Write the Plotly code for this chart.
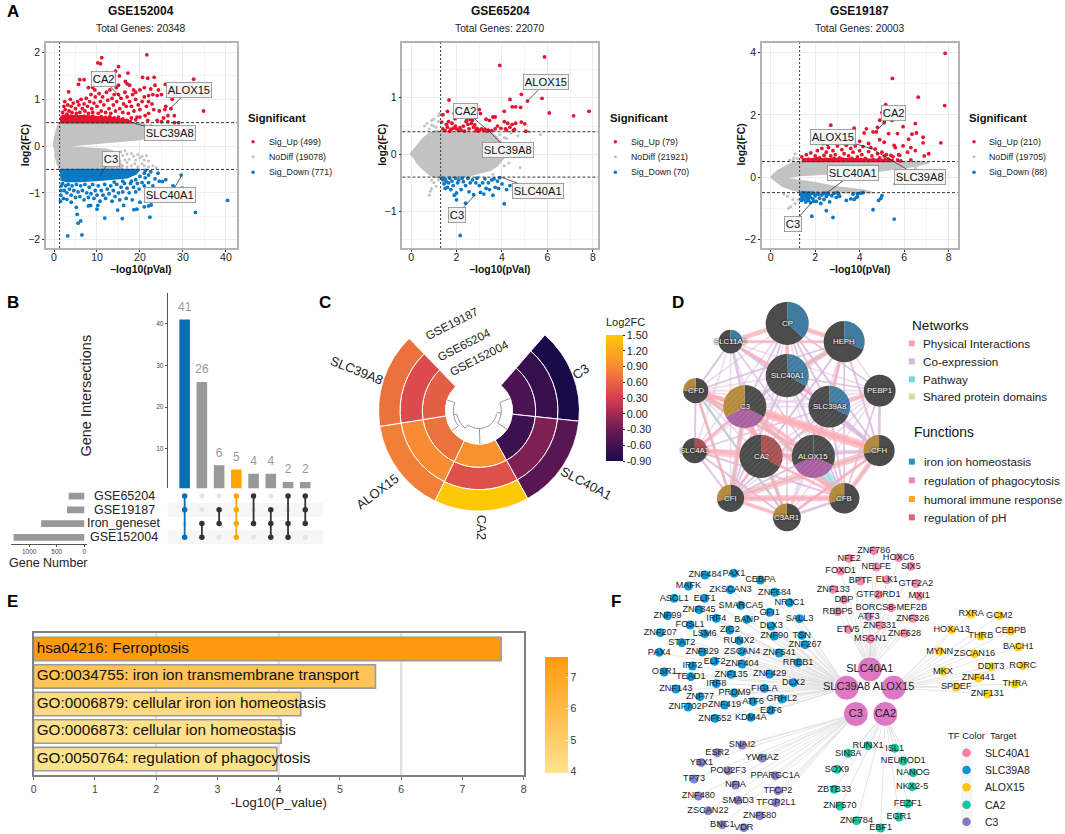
import itertools
import plotly.graph_objects as go

W, H = 1065, 834
FONT = "Liberation Sans"

# ---------- Panel A data ----------
a1_up = [(21.6,1.95),(11.1,1.89),(10.2,1.78),(10.8,1.76),(15,1.7),(14.3,1.6),(12.2,1.57),(17.2,1.56),(12.9,1.5),(15.2,1.5),(20.6,1.47),(21.8,1.45),(23.3,1.47),(32.5,1.43),(6,1.42),(7,1.42),(5.7,1.32),(16.6,1.38),(17,1.33),(17.6,1.3),(25.9,1.32),(3.4,1.16),(11,1.3),(9,1.25),(9.5,1.2),(8,1.25),(13.5,1.33),(14.5,1.25),(15,1.3),(18.5,1.2),(19,1.15),(20,1.2),(21,1.25),(22.5,1.22),(23.5,1.3),(24.3,1.2),(22,1.08),(23,1.1),(24,1.08),(25,1.1),(27.5,1.0),(34.8,.75),(26,.85),(27.2,.8),(24.5,.75),(28,.65),(25.8,.78),(25.5,.6),(26.5,.65),(29,.5),(22,.7),(21.2,.65),(21.8,.55),(24,.55),(25,.52),(26.5,.52),(28,.5),
(2,.72),(2.3,.85),(2.5,.95),(2.6,.78),(3,.68),(3.2,.88),(3.5,.75),(3.8,1.0),(4,.85),(4.2,.72),(4.5,.92),(5,.8),(5.2,.7),(5.5,.95),(5.8,.88),(6,.72),(6.3,1.0),(6.6,.8),(7,.9),(7.2,.75),(7.5,1.02),(7.8,.85),(8,.7),(8.3,.95),(8.6,1.1),(8.8,.8),(9,.72),(9.3,.92),(9.6,1.05),(10,.85),(10.3,.7),(10.5,1.12),(10.8,.95),(11,.75),(11.3,1.05),(11.6,.88),(12,.72),(12.2,1.15),(12.5,.98),(12.8,.8),(13,1.2),(13.2,.7),(13.5,1.02),(13.8,.88),(14,1.1),(14.3,.75),(14.6,.95),(15,1.1),(15.3,.8),(15.6,1.02),(16,.72),(16.2,.9),(16.5,1.15),(16.8,.85),(17,1.05),(17.3,.7),(17.6,.95),(18,.85),(18.3,1.1),(18.6,.75),(19,1.0),(19.3,.62),(19.6,.88),(20,.78),(20.5,.95),(21,1.05),(21.5,.85),(22,.95),(22.8,.9),(23.2,.78),(18,.6),(19,.56),(20,.62),(17,.55),(16,.58),(15,.62),(2,.62),(3,.6),(4,.64),(5,.62),(6,.6),(7,.64),(8,.62),(9,.64),(10,.6),(11,.63),(12,.61),(13,.63),(14,.6)]
a1_down = [(3.2,-1.92),(6.5,-1.9),(5.6,-1.65),(6.2,-1.6),(5.4,-1.46),(5.2,-1.31),(1.5,-1.18),(11.8,-1.54),(15.9,-1.55),(22.3,-1.52),(32.9,-1.42),(40.4,-1.16),(29.8,-.9),(14.8,-1.37),(16.2,-1.27),(18.6,-1.36),(19.3,-1.35),(21,-1.3),(22,-1.28),(22.6,-1.26),(10,-1.35),(8.5,-1.27),(8,-1.28),(10.2,-1.27),(3,-1.14),(2.2,-1.12),(1.6,-1.05),(4,-1.2),(27.7,-.85),(25,-.95),(24.5,-.75),(25.2,-.76),(29.6,-.62),(22,-.62),(24.2,-.58),(21.3,-.52),(23,-.85),(26,-.72),
(1.7,-.85),(1.6,-.95),(2,-.8),(2.4,-.95),(2.7,-.85),(3,-1.0),(3.3,-.82),(3.6,-.92),(4,-1.05),(4.2,-.85),(4.6,-.95),(5,-1.1),(5.2,-.82),(5.6,-.98),(6,-1.08),(6.2,-.85),(6.6,-.95),(7,-1.15),(7.2,-.82),(7.6,-1.0),(8,-1.1),(8.2,-.88),(8.6,-1.02),(9,-.82),(9.3,-1.12),(9.6,-.95),(10,-1.05),(10.3,-.85),(10.7,-1.18),(11,-.95),(11.4,-1.05),(11.8,-.82),(12,-1.12),(12.4,-.92),(12.8,-1.02),(13.2,-.85),(13.5,-1.18),(13.8,-.95),(14.2,-1.08),(14.6,-.82),(15,-1.0),(15.3,-1.15),(15.6,-.88),(16,-.98),(16.4,-.8),(16.8,-1.12),(17,-.9),(17.5,-1.0),(17.8,-.8),(18.2,-1.15),(18.5,-.88),(19,-.98),(19.4,-.8),(19.8,-.92),(20,-1.2),(20.5,-.78),(21,-.85),(21.2,-.68),(22,-.78),(22.5,-.55),(23.5,-.7),(18,-.75),(19,-.72),(20,-.65),(21,-.58),(16,-.75),(14,-.77)]
a1_grey = [(16,-.2),(17,-.17),(18,-.16),(20,-.25),(20.5,-.22),(21,-.3),(22,-.32),(19,-.3),(17,-.35),(18,-.42),(15,-.3),(16,-.42),(19.5,-.45),(21,-.42),(22,-.45),(23,-.42),(23.8,-.46),(20.5,-.38),(14.5,-.4),(17.5,-.28),(16.5,-.3),(24,.3),(22.5,.45),(23.8,.33),(18.8,-.38),(15.5,-.12),(16.5,-.1),(18.5,-.22),(19.5,-.18),(17,-.45),(21.5,-.2)]
a1_env_x = [-0.2,0.2,0.6,1.0,1.4,20.5,22,23.5,24,23,20,15,10,6,4,2.8,4,6,8,10,12,13.5,15,15.5,16,1.3,0.9,0.5,0.2]
a1_env_y = [0.0,0.22,0.36,0.46,0.5,0.5,0.42,0.33,0.27,0.2,0.14,0.1,0.07,0.04,0.02,0.0,-0.02,-0.03,-0.04,-0.05,-0.07,-0.1,-0.2,-0.35,-0.5,-0.5,-0.42,-0.3,-0.16]
a1_up_env_x = [1.4,18,18,14,8,4,2,1.4]
a1_up_env_y = [.5,.5,.54,.6,.64,.66,.66,.6]
a1_dn_env_x = [1.3,20,19,17,12,6,3,1.5]
a1_dn_env_y = [-.5,-.5,-.6,-.68,-.72,-.76,-.76,-.72]

a2_up = [(5.87,1.72),(3.9,1.57),(4.85,1.06),(4.35,.97),(5.76,.99),(5.12,.94),(1.67,.96),(4.45,.84),(4.6,.84),(4.82,.83),(4.1,.76),(6.08,.73),(7.15,.68),(7.83,.76),(3.0,.79),(1.4,.7),(1.6,.76),(1.9,.72),(3.05,.72),(3.3,.62),(3.6,.66),(3.7,.66),(3.45,.6),(1.93,.63),(2.45,.6),(2.6,.62),(2.7,.6),(1.35,.57),(1.55,.53),(1.6,.48),(1.8,.55),(1.95,.5),(2.0,.45),(2.1,.42),(2.3,.5),(2.5,.53),(2.55,.45),(2.65,.55),(2.75,.48),(2.85,.42),(2.9,.46),(3.0,.43),(3.1,.45),(3.2,.42),(3.4,.43),(3.55,.42),(3.8,.5),(3.95,.46),(4.1,.58),(4.15,.45),(4.25,.55),(4.35,.48),(4.45,.53),(4.55,.44),(4.6,.55),(4.85,.57),(5.0,.54),(5.05,.41),(4.5,.42),(1.4,.45),(1.5,.42),(1.7,.41),(1.85,.46),(2.2,.43),(2.35,.41),(2.8,.52),(3.25,.44),(3.7,.45),(4.2,.43),(1.65,.58),(2.15,.47),(2.42,.58),(2.95,.41),(3.35,.41),(1.75,.44)]
a2_down = [(2.16,-1.43),(4.1,-.87),(2.4,-.86),(2,-.8),(1.9,-.72),(3.9,-.41),(1.4,-.45),(1.45,-.52),(1.5,-.6),(1.55,-.48),(1.65,-.5),(1.7,-.42),(1.75,-.62),(1.8,-.47),(1.85,-.55),(1.95,-.42),(2.0,-.68),(2.05,-.5),(2.1,-.45),(2.2,-.62),(2.3,-.48),(2.4,-.55),(2.5,-.42),(2.55,-.66),(2.7,-.45),(2.75,-.71),(2.9,-.42),(3.0,-.55),(3.05,-.67),(3.15,-.5),(3.2,-.7),(3.3,-.6),(3.4,-.5),(3.45,-.62),(3.55,-.45),(3.6,-.72),(3.7,-.58),(3.8,-.47),(3.85,-.6),(4.0,-.52),(4.2,-.62),(4.35,-.55),(1.35,-.42),(1.6,-.58),(1.5,-.44),(2.25,-.42),(2.85,-.5),(2.6,-.5),(3.25,-.43),(3.65,-.43)]
a2_grey = [(.7,.55),(.9,.6),(1,.62),(1.2,.68),(1.25,.72),(.8,.45),(1,.5),(1.1,.48),(.6,.5),(1.2,.58),(.9,.52),(5.7,.35),(5.2,.4),(4.4,.38),(4.7,.33),(4.2,.28),(4.8,-.23),(4.3,-.15),(4.4,.1),(4.7,.2),(4.5,-.02),(.8,-.72),(.85,-.65),(.9,-.6),(1,-.5),(1.2,-.45),(.9,-.45),(3.9,.35),(4.1,.3),(4.1,-.2),(3.6,-.35),(1.1,-.56)]
a2_env_x = [-.05,.2,.5,.8,1.1,1.4,3.2,3.5,3.8,4,4.1,4.3,4,3.8,3.5,3,2.5,2,1.3,1,.8,.5,.2]
a2_env_y = [0,.13,.27,.37,.42,.4,.4,.38,.3,.2,.13,.04,-.1,-.2,-.28,-.33,-.38,-.4,-.42,-.4,-.35,-.25,-.12]

a3_up = [(7.84,3.98),(5.47,3.17),(6.63,2.57),(7.82,2.3),(5.17,2.33),(5.0,2.07),(4.9,1.83),(5.45,1.82),(5.1,1.75),(2.7,1.67),(3.75,1.57),(4.3,1.55),(4.2,1.42),(4.6,1.45),(4.75,1.45),(4.8,1.6),(5.95,1.62),(5.3,1.4),(5.7,1.4),(6.5,1.72),(6.35,1.38),(6.55,1.42),(6.85,1.28),(6.2,1.22),(6.85,1.1),(7.65,1.1),(6.3,.95),(7.1,.75),(6.9,.68),(6.5,.85),(6.15,.8),(5.75,.72),(5.8,.7),(5.95,1.0),(5.55,1.02),(5.1,1.12),(4.9,1.2),
(1.4,.65),(1.6,.72),(1.8,.78),(2.0,.68),(2.1,.85),(2.2,.62),(2.3,.92),(2.4,.7),(2.5,.8),(2.6,.95),(2.7,.68),(2.8,.85),(2.9,.72),(3.0,1.0),(3.1,.62),(3.2,.88),(3.3,.75),(3.4,1.02),(3.5,.68),(3.6,.92),(3.7,.8),(3.8,1.0),(3.9,.65),(4.0,.85),(4.1,.72),(4.15,.98),(4.25,.6),(4.4,.82),(4.5,.95),(4.55,.68),(4.7,.9),(4.8,.75),(4.9,.62),(5.0,.8),(5.1,.68),(5.2,.72),(5.3,.58),(5.4,.7),(5.5,.65),(5.6,.95),(5.7,.55),(1.5,.55),(1.7,.58),(1.9,.55),(2.05,.6),(2.25,.55),(2.45,.58),(2.65,.55),(2.85,.6),(3.05,.55),(3.25,.58),(3.45,.55),(3.65,.6),(3.85,.55),(4.05,.56),(4.3,.55),(4.6,.56),(4.85,.55),(5.15,.56),(5.85,.52),(6.3,.55),(3.35,1.1),(2.55,1.05),(4.4,1.08),(3.6,1.15),(2.35,1.08),(4.0,1.15)]
a3_down = [(5.55,-1.35),(4.6,-1.05),(2.8,-1.3),(1.85,-1.26),(2.5,-1.08),(5,-.6),(4.95,-.68),(4.85,-.75),(3.4,-.75),(3.6,-.7),(3.75,-.72),(3.85,-.65),(3.7,-.55),(3.9,-.53),(4.05,-.52),(1.35,-.55),(1.4,-.65),(1.45,-.52),(1.5,-.72),(1.55,-.6),(1.6,-.52),(1.65,-.68),(1.7,-.75),(1.75,-.58),(1.8,-.82),(1.85,-.52),(1.9,-.7),(2.0,-.6),(2.05,-.78),(2.1,-.52),(2.2,-.68),(2.25,-.85),(2.3,-.58),(2.4,-.72),(2.45,-.52),(2.5,-.62),(2.6,-.55),(2.65,-.8),(2.75,-.6),(2.85,-.52),(2.95,-.65),(3.05,-.55),(3.1,-.62),(1.38,-.75),(1.48,-.6),(1.58,-.8),(1.68,-.55),(1.78,-.65),(2.15,-.55),(2.35,-.52),(1.42,-.5),(1.52,-.5),(1.62,-.62),(1.72,-.5),(1.92,-.52),(1.95,-.78),(2.55,-.52),(3.9,-.63),(4.15,-.5),(3.0,-.5)]
a3_grey = [(1.1,.75),(1.05,.62),(1.2,.6),(.85,.55),(1.0,.55),(6.5,.3),(6.6,.38),(5.55,-.22),(5.7,.25),(.9,-.95),(.8,-1.0),(1.1,-.85),(1.0,-.72),(.75,-.62),(.6,-.55),(1.25,-.72)]
a3_env_up_x = [0,.3,.7,1,1.3,6.8,7.1,6.6,6.3,5,3,1.3,.9,.5]
a3_env_up_y = [0,.2,.36,.46,.5,.5,.45,.36,.33,.2,.12,.05,0,-.03]
a3_env_dn_x = [0,.5,1,1.5,2.6,4.6,4.2,3,2,1.2,.5]
a3_env_dn_y = [0,-.28,-.42,-.5,-.5,-.5,-.42,-.32,-.18,-.1,-.02]
a3_up_env_x = [1.4,5.5,5.5,3,1.4]
a3_up_env_y = [.5,.5,.56,.6,.58]

# label name, point x, point y, label x, label y
a1_labels = [("CA2",15.6,1.02,11.56,1.43),("ALOX15",27,.8,31.3,1.19),("SLC39A8",18.2,.5,27.05,.27),("C3",10.6,-.65,13.2,-.27),("SLC40A1",29.7,-.63,27.05,-1.05)]
a2_labels = [("ALOX15",5.12,.94,5.92,1.27),("CA2",3.27,.46,2.39,.77),("SLC39A8",3.34,.45,4.26,.07),("SLC40A1",3.95,-.4,5.6,-.64),("C3",2.83,-.71,2,-1.06)]
a3_labels = [("CA2",4.72,1.46,5.51,2.05),("ALOX15",4.68,.88,2.82,1.29),("SLC39A8",4.75,.82,6.7,.01),("SLC40A1",2.52,-.51,3.71,.12),("C3",1.85,-.81,1,-1.5)]

# ---------- Panel B data ----------
inter_counts = [41,26,6,5,4,4,2,2]
inter_colors = ["#0a6eb4","#999999","#999999","#ffa500","#999999","#999999","#999999","#999999"]
set_names = ["GSE65204","GSE19187","Iron_geneset","GSE152004"]
set_sizes = [283,313,783,1283]
memberships = [[0,1,3],[2,3],[1,2],[0,1,2,3],[0,2],[1,2,3],[0,2,3],[0,1,2]]

# ---------- Panel C data ----------
sector_genes = ["C3","SLC40A1","CA2","ALOX15","SLC39A8"]
fc_gse152004 = [-.55,-.65,.95,.7,.55]
fc_gse65204 = [-.7,-.2,.45,.9,.4]
fc_gse19187 = [-.9,-.45,1.5,.8,.7]

# ---------- Panel D data (network layout units) ----------
d_names = ["CP","HEPH","SLC11A2","SLC40A1","PEBP1","CFD","C3","SLC39A8","SLC4A1","CA2","ALOX15","CFH","CFI","CFB","C3AR1"]
d_x = [386,558,215,386,665,110,258,513,107,307,465,663,215,558,385]
d_y = [115,170,170,272,317,317,365,365,497,514,514,497,640,640,697]
d_r = [65,62,36,65,48,38,65,63,38,65,65,47,41,46,42]
d_slices = [[37,63],[31,69],[25,75],[33,67],[100],[75,25],[33,34,33],[32,68],[25,75],[33,67],[32,36,32],[72,28],[72,28],[70,30],[75,25]]
BL,DK,TN,PU,RD = "#3f7c9f","#4b4b4b","#b58b3e","#a9609f","#a65252"
d_colors = [[BL,DK],[BL,DK],[BL,DK],[BL,DK],[DK],[DK,TN],[DK,PU,TN],[BL,DK],[RD,DK],[RD,DK],[DK,PU,DK],[DK,TN],[DK,TN],[DK,TN],[DK,TN]]
d_hatched = {"SLC40A1","C3","SLC39A8","CA2","ALOX15"}
edges_pink = [("C3","CFH",9),("SLC4A1","CA2",7),("CFI","CFH",7),("CFD","CFH",5),("C3","CFB",5),("CFI","CFB",6),("CP","SLC11A2",5),("CP","HEPH",5),("SLC11A2","HEPH",3),("SLC40A1","HEPH",5),("SLC39A8","PEBP1",5),("C3","CFI",5),("C3","CFD",4),("CFB","CFH",5),("C3AR1","C3",3),("C3AR1","CFH",3),("CFD","CFB",4),("CFD","CFI",3),("CP","SLC40A1",4),("SLC11A2","SLC40A1",3),("CFI","C3AR1",4),("CFD","ALOX15",3),("C3","ALOX15",4),("CA2","ALOX15",3),("CA2","C3",3),("CA2","CFI",3),("CA2","CFB",3),("SLC4A1","C3",3),("SLC39A8","HEPH",3),("SLC40A1","SLC39A8",3)]
edges_purple = [("CP","C3",2),("CP","SLC39A8",2),("CP","CFH",2),("CP","PEBP1",1.5),("HEPH","CFD",1.5),("HEPH","CFH",2),("HEPH","SLC39A8",2),("SLC11A2","CFD",2),("SLC11A2","C3",2),("SLC11A2","CFH",1.5),("SLC11A2","SLC39A8",1.5),("SLC40A1","CFI",2),("SLC40A1","CFB",2),("SLC40A1","C3",2),("SLC40A1","CFH",2),("SLC39A8","CFH",3),("SLC39A8","CFB",2),("SLC39A8","CFI",2),("PEBP1","CFH",3),("CFD","C3AR1",2),("CFD","SLC4A1",2),("SLC4A1","CFI",2),("SLC4A1","C3AR1",2),("SLC4A1","CFB",2),("CFI","CFB",3),("CFB","C3AR1",3),("CFH","C3AR1",2),("CP","CFB",1.5),("CP","CFI",1.5),("HEPH","CFI",1.5),("HEPH","CFB",1.5),("CA2","CFH",3),("ALOX15","CFD",2),("ALOX15","CFI",2),("PEBP1","CFB",1.5),("PEBP1","SLC40A1",1.5)]
edges_cyan = [("ALOX15","CFB",8),("CFD","C3AR1",2),("C3","CFI",3),("C3","CFB",3),("CFH","CFI",2),("CFB","CFH",2),("CFD","CFI",2),("SLC40A1","HEPH",3),("CFD","CFB",2),("C3","C3AR1",2),("C3","CFH",2)]
edges_tan = [("CP","HEPH",2),("CFD","C3AR1",1),("CFB","CFH",1),("CFD","CFI",1)]

net_labels = ["Physical Interactions","Co-expression","Pathway","Shared protein domains"]
net_colors = ["#ffa3ab","#d9b6da","#72d8e0","#e0d8a2"]
fun_labels = ["iron ion homeostasis","regulation of phagocytosis","humoral immune response","regulation of pH"]
fun_colors = ["#2f8fc0","#e884d2","#ffa726","#e06468"]

# ---------- Panel E data ----------
terms = ["hsa04216: Ferroptosis","GO:0034755: iron ion transmembrane transport","GO:0006879: cellular iron ion homeostasis","GO:0006873: cellular ion homeostasis","GO:0050764: regulation of phagocytosis"]
logp = [7.63,5.58,4.36,4.04,3.97]

# ---------- Panel F data (network layout units) ----------
tf_blue_names = ["ZNF484","PAX1","CEBPA","MAFK","ZKSCAN3","ZNF684","ASCL1","ELF1","SMARCA5","NR3C1","ZNF845","GFI1","ZNF99","IRF4","BANP","SALL3","FOSL1","DLX3","ZNF207","LSM6","ZIC2","ZNF90","TSN","STAT2","RUNX2","ZNF267","PAX4","ZNF829","ZSCAN4","ZNF541","IRF2","ELF2","ZNF404","RREB1","OSR1","TEAD1","ZNF135","ZNF429","IRF8","DLX2","ZNF143","PRDM9","FIGLA","ZNF77","GRHL2","ZNF702P","ZNF419","ATF6","E2F6"]
tf_blue_x = [288,375,455,238,365,498,195,287,396,543,270,483,175,322,414,573,243,488,153,287,363,497,580,218,391,590,150,280,400,512,250,317,400,569,165,245,367,483,322,555,200,377,467,273,520,237,347,433,487]
tf_blue_y = [90,85,105,123,134,142,160,160,181,173,194,202,212,220,223,221,240,243,263,266,255,273,271,293,287,299,322,321,320,324,363,349,357,353,381,395,388,387,416,413,432,444,430,455,462,486,480,470,496]
tf_blue2_names = ["ZNF652","KDM4A"]
tf_blue2_x = [138,246]
tf_blue2_y = [55,52]
tf_pink_names = ["ZNF786","NFE2","HOXC6","NELFE","SIX5","FOXD1","BPTF","ELK1","GTF2A2","ZNF133","GTF2IRD1","MXI1","DBP","BORCS8-MEF2B","RBBP5","ATF3","ZNF326","ZNF331","ETV5","ZNF628","MSGN1"]
tf_pink_x = [167,93,242,175,279,67,127,207,294,45,181,304,77,220,58,152,285,185,90,260,157]
tf_pink_y = [17,40,38,66,64,78,108,104,116,133,149,153,164,188,200,215,220,241,253,265,282]
tf_yellow_names = ["RXRA","GCM2","HOXA13","THRB","CEBPB","BACH1","MYNN","ZSCAN16","DDIT3","RORC","MKX","ZNF441","SPDEF","THRA","ZNF131"]
tf_yellow_x = [461,546,402,490,580,603,366,471,521,617,376,483,416,593,510]
tf_yellow_y = [207,212,254,273,258,306,319,326,365,362,379,399,426,417,447]
tf_purple_names = ["SNAI2","ESR2","YWHAZ","YBX1","POU2F3","TP73","PPARGC1A","NFIA","TFCP2","ZNF480","SMAD3","TFCP2L1","ZSCAN22","ZNF580","BNC1","VDR"]
tf_purple_x = [220,145,280,97,178,75,320,200,328,88,208,322,117,273,160,225]
tf_purple_y = [135,158,174,188,212,237,227,255,272,288,301,308,332,347,374,383]
tf_green_names = ["RUNX1","ISL1","SIN3A","NEUROD1","SOX9","NANOG","NKX2-5","ZBTB33","FEZF1","ZNF570","EGR1","ZNF784","EBF1"]
tf_green_x = [600,680,540,706,506,736,733,498,720,515,693,565,638]
tf_green_y = [137,145,160,183,208,218,260,268,311,318,351,362,384]
hub_names = ["SLC40A1","SLC39A8","ALOX15","C3","CA2"]
hub_x = [155,85,227,113,202]
hub_y = [373,428,428,507,507]
legend_targets = ["SLC40A1","SLC39A8","ALOX15","CA2","C3"]
legend_tf_colors = ["#f87ea0","#0a94d4","#fbc40c","#12c8a0","#8078c0"]

# ---------- helpers ----------
def fx(p): return p/W
def fy(p): return 1-p/H
notes = []
def note(px,py,text,size=10,color="#111",anchor="center",angle=0,bold=False,shadow=None,valign="middle"):
    f = dict(family=FONT,size=size,color=color)
    if shadow: f["shadow"] = shadow
    notes.append(dict(x=fx(px),y=fy(py),xref="paper",yref="paper",text=f"<b>{text}</b>" if bold else text,showarrow=False,font=f,xanchor=anchor,yanchor=valign,textangle=angle))

fig = go.Figure()
layout = dict(width=W,height=H,margin=dict(l=0,r=0,t=0,b=0),paper_bgcolor="white",plot_bgcolor="rgba(0,0,0,0)",showlegend=False,font=dict(family=FONT,color="#222"))
shapes = []
RED,BLUE,GREY = "#e5132f","#0a78c2","#c2c2c2"

def xy(pts): return [p[0] for p in pts],[p[1] for p in pts]

def volcano(i,rect,xr,yr,xt,yt,xm,ym,title,total,up,down,grey,envs,up_envs,dn_envs,hline,labels,counts,legx,ytitle_x):
    sfx = "" if i == 1 else str(i)
    xa,ya = f"x{sfx}",f"y{sfx}"
    l,r,t,b = rect
    layout[f"xaxis{sfx}"] = dict(domain=[fx(l),fx(r)],range=xr,anchor=ya,tickvals=xt,showgrid=True,gridcolor="#ececec",gridwidth=.8,
        minor=dict(tickvals=xm,showgrid=True,gridcolor="#f4f4f4",gridwidth=.6,ticks=""),zeroline=False,showline=True,mirror=True,linecolor="#b3b3b3",linewidth=1.5,
        ticks="outside",ticklen=2,tickcolor="#333",tickfont=dict(size=10.5,color="#222"),ticklabelstandoff=-3)
    layout[f"yaxis{sfx}"] = dict(domain=[fy(b),fy(t)],range=yr,anchor=xa,tickvals=yt,showgrid=True,gridcolor="#ececec",gridwidth=.8,
        minor=dict(tickvals=ym,showgrid=True,gridcolor="#f4f4f4",gridwidth=.6,ticks=""),zeroline=False,showline=True,mirror=True,linecolor="#b3b3b3",linewidth=1.5,
        ticks="outside",ticklen=2,tickcolor="#333",tickfont=dict(size=10.5,color="#222"))
    for ex,ey in envs:
        fig.add_trace(go.Scatter(x=ex,y=ey,mode="lines",fill="toself",fillcolor=GREY,line=dict(color=GREY,width=1.5),xaxis=xa,yaxis=ya,hoverinfo="skip"))
    gx,gy = xy(grey)
    fig.add_trace(go.Scatter(x=gx,y=gy,mode="markers",marker=dict(color=GREY,size=3),xaxis=xa,yaxis=ya,hoverinfo="skip"))
    for ex,ey,c in up_envs+dn_envs:
        fig.add_trace(go.Scatter(x=ex,y=ey,mode="lines",fill="toself",fillcolor=c,line=dict(color=c,width=1.5),xaxis=xa,yaxis=ya,hoverinfo="skip"))
    for pts,c in ((up,RED),(down,BLUE)):
        px_,py_ = xy(pts)
        fig.add_trace(go.Scatter(x=px_,y=py_,mode="markers",marker=dict(color=c,size=3.8),xaxis=xa,yaxis=ya,hoverinfo="skip"))
    for v in (hline,-hline):
        shapes.append(dict(type="line",xref=f"{xa} domain",x0=0,x1=1,yref=ya,y0=v,y1=v,line=dict(color="#333",width=1,dash="3px,2px")))
    shapes.append(dict(type="line",yref=f"{ya} domain",y0=0,y1=1,xref=xa,x0=1.3,x1=1.3,line=dict(color="#333",width=1,dash="2px,2px")))
    for name,px0,py0,lx,ly in labels:
        notes.append(dict(x=px0,y=py0,xref=xa,yref=ya,ax=lx,ay=ly,axref=xa,ayref=ya,text=name,showarrow=True,arrowhead=0,arrowwidth=.8,arrowcolor="#333",
            font=dict(family=FONT,size=11.2,color="#111"),bgcolor="#f4f4f4",bordercolor="#8c8c8c",borderwidth=.8,borderpad=1,standoff=0))
    cx = (l+r)/2
    note(cx,11,title,12,"#111",bold=True)
    note(cx,28,total,10.3,"#222")
    note(cx,269,"−log10(pVal)",10.4,"#111",bold=True)
    note(ytitle_x,145,"log2(FC)",10.4,"#111",bold=True,angle=-90)
    note(legx,117.7,"Significant",11.3,"#111","left",bold=True)
    for yy,c,lab,sz in zip((141.7,156.7,172.3),(RED,GREY,BLUE),counts,(3.5,3,3.5)):
        legend_pts.append((legx+7.5,yy,c,sz))
        note(legx+21,yy,lab,8.8,"#222","left")

legend_pts = []
volcano(1,(43.3,235,42.7,248),[-1.85,42.5],[-2.18,2.21],[0,10,20,30,40],[-2,-1,0,1,2],[5,15,25,35],[-1.5,-.5,.5,1.5],"GSE152004","Total Genes: 20348",a1_up,a1_down,a1_grey,
    [(a1_env_x,a1_env_y)],[(a1_up_env_x,a1_up_env_y,RED)],[(a1_dn_env_x,a1_dn_env_y,BLUE)],.5,a1_labels,["Sig_Up (499)","NoDiff (19078)","Sig_Down (771)"],244,22.3)
volcano(2,(401.7,598.3,42.7,248),[-.38,8.22],[-1.65,1.97],[0,2,4,6,8],[-1,0,1],[1,3,5,7],[-1.5,-.5,.5,1.5],"GSE65204","Total Genes: 22070",a2_up,a2_down,a2_grey,
    [(a2_env_x,a2_env_y)],[],[],.4,a2_labels,["Sig_Up (79)","NoDiff (21921)","Sig_Down (70)"],608.3,381)
volcano(3,(763.3,960,42.7,248),[-.39,8.4],[-2.28,4.32],[0,2,4,6,8],[-2,0,2,4],[1,3,5,7],[-1,1,3],"GSE19187","Total Genes: 20003",a3_up,a3_down,a3_grey,
    [(a3_env_up_x,a3_env_up_y),(a3_env_dn_x,a3_env_dn_y)],[(a3_up_env_x,a3_up_env_y,RED)],[],.5,a3_labels,["Sig_Up (210)","NoDiff (19705)","Sig_Down (88)"],969,741.7)

# ---------- Panel B ----------
n = list(range(8))
layout["xaxis4"] = dict(domain=[fx(165.7),fx(322)],range=[-.98,8.04],anchor="y4",visible=False)
layout["yaxis4"] = dict(domain=[fy(488.3),fy(293.3)],range=[.48,47.3],anchor="x4",tickvals=[10,20,30,40],showgrid=False,zeroline=False,showline=True,linecolor="#555",linewidth=1,
    ticks="outside",ticklen=2,tickcolor="#555",tickfont=dict(size=6.5,color="#444"))
fig.add_trace(go.Bar(x=n,y=inter_counts,width=.615,marker=dict(color=inter_colors,line=dict(width=0)),xaxis="x4",yaxis="y4",hoverinfo="skip"))
fig.add_trace(go.Scatter(x=n,y=[c+2.8 for c in inter_counts],mode="text",text=inter_counts,textposition="middle center",textfont=dict(size=12,color="#999",family=FONT),xaxis="x4",yaxis="y4",cliponaxis=False,hoverinfo="skip"))
layout["xaxis5"] = dict(domain=[fx(165.7),fx(322)],range=[-.98,8.04],anchor="y5",visible=False)
layout["yaxis5"] = dict(domain=[fy(544.2),fy(489.2)],range=[3.5,-.5],anchor="x5",visible=False)
for r_ in (1,3):
    shapes.append(dict(type="rect",xref="x5 domain",x0=0,x1=1,yref="y5",y0=r_-.5,y1=r_+.5,fillcolor="#f6f6f6",line=dict(width=0),layer="below"))
for i,m in enumerate(memberships):
    rows = [r_ for r_ in range(4) if r_ not in m]
    fig.add_trace(go.Scatter(x=[i]*len(rows),y=rows,mode="markers",marker=dict(color="#e4e4e4",size=5),xaxis="x5",yaxis="y5",hoverinfo="skip"))
    c = inter_colors[i] if inter_colors[i] != "#999999" else "#333333"
    fig.add_trace(go.Scatter(x=[i]*2,y=[min(m),max(m)],mode="lines",line=dict(color=c,width=1.8),xaxis="x5",yaxis="y5",hoverinfo="skip"))
    fig.add_trace(go.Scatter(x=[i]*len(m),y=m,mode="markers",marker=dict(color=c,size=5.5),xaxis="x5",yaxis="y5",hoverinfo="skip"))
layout["xaxis6"] = dict(domain=[fx(8.3),fx(84.3)],range=[1326,-47],anchor="y6",tickvals=[1000,500,0],showgrid=False,zeroline=False,showline=True,linecolor="#555",linewidth=1,
    ticks="outside",ticklen=2,tickcolor="#555",tickfont=dict(size=6.5,color="#444"))
layout["yaxis6"] = dict(domain=[fy(543.5),fy(489.2)],range=[3.45,-.5],anchor="x6",visible=False)
fig.add_trace(go.Bar(x=set_sizes,y=[0,1,2,3],orientation="h",width=.5,marker=dict(color="#999999",line=dict(width=0)),xaxis="x6",yaxis="y6",hoverinfo="skip"))
for nm,yy in zip(set_names,(496,509.7,523.3,537.3)):
    note(122,yy,nm,12.5,"#222")
note(46,563,"Gene Number",12.5,"#222")
note(83,396,"Gene Intersections",14.5,"#222",angle=-90)

# ---------- Panel C ----------
cscale = [[0,"#1a0a4c"],[.25,"#6d1a55"],[.5,"#d63d52"],[.75,"#f78c33"],[1,"#ffc805"]]
thetas = [68.5,123.5,178.5,233.5,288.5]
bases = [1.5,2.54,3.54]
widths_r = [1.04,1.0,.96]
for ring,(vals,b0,wd) in enumerate(zip((fc_gse152004,fc_gse65204,fc_gse19187),bases,widths_r)):
    marker = dict(color=vals,colorscale=cscale,cmin=-.9,cmax=1.5,line=dict(color="white",width=1))
    if ring == 0:
        marker["colorbar"] = dict(x=fx(606.7),xanchor="left",y=fy(461),yanchor="bottom",len=126/H,lenmode="fraction",thickness=16.6,thicknessmode="pixels",xpad=0,ypad=0,
            outlinewidth=0,tickvals=[-.9,-.6,-.3,0,.3,.6,.9,1.2,1.5],ticktext=["-0.90","-0.60","-0.30","0.00","0.30","0.60","0.90","1.20","1.50"],
            ticks="outside",ticklen=2,tickcolor="#222",tickfont=dict(size=10.8,color="#222"))
    fig.add_trace(go.Barpolar(r=[wd]*5,base=[b0]*5,theta=thetas,width=[55]*5,marker=marker,subplot="polar",hoverinfo="skip"))
layout["polar"] = dict(domain=dict(x=[fx(377.7),fx(579.7)],y=[fy(511.7),fy(309.7)]),sector=[0,360],bgcolor="rgba(0,0,0,0)",
    radialaxis=dict(visible=False,range=[0,4.5]),angularaxis=dict(visible=False,rotation=90,direction="clockwise"))
dend_r = [[1.5,1.15],[1.5,1.15],[1.15]*7,[1.15,1.0],[1.0]*5,[1.0,.8],[1.5,1.0],[1.5,1.0],[1.0]*7,[1.0,.8],[.8]*13,[1.5,.8]]
dend_t = [[288.5]*2,[233.5]*2,[233.5,243,252,261,270,279,288.5],[261]*2,[218,228,240,250,261],[218]*2,[68.5]*2,[123.5]*2,[68.5,78,87,96,105,114,123.5],[96]*2,
          [100,110,120,130,140,150,160,170,180,190,200,210,218],[178.5]*2]
for rr,tt in zip(dend_r,dend_t):
    fig.add_trace(go.Scatterpolar(r=rr,theta=tt,mode="lines",line=dict(color="#9a9a9a",width=1),subplot="polar",hoverinfo="skip"))
note(356,370,"SLC39A8",13,"#222",angle=22)
note(450.7,323.3,"GSE19187",11.7,"#222",angle=-27)
note(463.3,344.3,"GSE65204",11.7,"#222",angle=-27)
note(479,357.7,"GSE152004",11.7,"#222",angle=-27)
note(581,371,"C3",13,"#222",angle=-35)
note(586.7,484,"SLC40A1",13,"#222",angle=28)
note(480.7,527.7,"CA2",13,"#222",angle=90)
note(376.7,491.7,"ALOX15",13,"#222",angle=-37)
note(625.7,321.7,"Log2FC",11,"#222")

# ---------- canvas axes for D & F ----------
layout["xaxis7"] = dict(domain=[0,1],range=[0,W],anchor="y7",visible=False)
layout["yaxis7"] = dict(domain=[0,1],range=[H,0],anchor="x7",visible=False)
def dpx(x): return 660+x/3
def dpy(y): return 285+y/3
didx = {nm:i for i,nm in enumerate(d_names)}
# faint co-expression mesh between every pair of genes
mesh_x,mesh_y = [],[]
for a,b in itertools.combinations(range(len(d_names)),2):
    mesh_x += [dpx(d_x[a]),dpx(d_x[b]),None]
    mesh_y += [dpy(d_y[a]),dpy(d_y[b]),None]
fig.add_trace(go.Scatter(x=mesh_x,y=mesh_y,mode="lines",line=dict(color="rgba(222,190,224,0.55)",width=1.6),xaxis="x7",yaxis="y7",hoverinfo="skip"))
for edges,col in ((edges_purple,"rgba(216,178,218,0.6)"),(edges_cyan,"rgba(128,220,228,0.6)"),(edges_tan,"rgba(224,216,162,0.6)"),(edges_pink,"rgba(255,170,178,0.65)")):
    for a,b,w_ in edges:
        ia,ib = didx[a],didx[b]
        fig.add_trace(go.Scatter(x=[dpx(d_x[ia]),dpx(d_x[ib])],y=[dpy(d_y[ia]),dpy(d_y[ib])],mode="lines",line=dict(color=col,width=w_),xaxis="x7",yaxis="y7",hoverinfo="skip"))
HATCH_FG = {BL:"#5f96b5",DK:"#666666",TN:"#c8a25c",PU:"#bd7ab3",RD:"#bd6e6e"}
for i,nm in enumerate(d_names):
    cx,cy,r_ = dpx(d_x[i]),dpy(d_y[i]),d_r[i]/3
    mk = dict(colors=d_colors[i],line=dict(color="white",width=0))
    if nm in d_hatched:
        mk["pattern"] = dict(shape=["/"]*len(d_colors[i]),bgcolor=d_colors[i],fgcolor=[HATCH_FG[c] for c in d_colors[i]],size=4,solidity=.2,fillmode="replace")
    fig.add_trace(go.Pie(values=d_slices[i],marker=mk,sort=False,direction="clockwise",rotation=0,textinfo="none",hoverinfo="skip",showlegend=False,
        domain=dict(x=[fx(cx-r_),fx(cx+r_)],y=[fy(cy+r_),fy(cy-r_)])))
    note(cx,cy,nm,7.8,"white",shadow="0 0 2px #222, 0 0 2px #222")
note(912,325.7,"Networks",13.6,"#111","left")
note(913.7,432.3,"Functions",13.8,"#111","left")
for lab,c,yy in zip(net_labels,net_colors,(175,229,283,335)):
    py_ = dpy(yy)
    note(923,py_,lab,11.7,"#222","left")
    fig.add_trace(go.Scatter(x=[914],y=[py_],mode="markers",marker=dict(symbol="square",size=6,color=c),xaxis="x7",yaxis="y7",hoverinfo="skip"))
for lab,c,yy in zip(fun_labels,fun_colors,(530,586,642,697)):
    py_ = dpy(yy)
    note(924,py_,lab,11.7,"#222","left")
    fig.add_trace(go.Scatter(x=[914],y=[py_],mode="markers",marker=dict(symbol="square",size=6,color=c),xaxis="x7",yaxis="y7",hoverinfo="skip"))

# ---------- volcano legend points on canvas ----------
for lx,ly,c,sz in legend_pts:
    fig.add_trace(go.Scatter(x=[lx],y=[ly],mode="markers",marker=dict(color=c,size=sz),xaxis="x7",yaxis="y7",hoverinfo="skip"))

# ---------- Panel E ----------
ecs = [[0,"#ffe28c"],[1,"#ff9a10"]]
layout["xaxis8"] = dict(domain=[fx(30.8),fx(523.7)],range=[0,8],anchor="y8",tickvals=list(range(9)),showgrid=False,zeroline=False,showline=True,mirror=True,linecolor="#808080",linewidth=2,
    ticks="outside",ticklen=3,tickcolor="#777",tickfont=dict(size=10.5,color="#444"),title=dict(text="-Log10(P_value)",font=dict(size=13,color="#222"),standoff=2))
layout["yaxis8"] = dict(domain=[fy(775),fy(632.7)],range=[4.58,-.59],anchor="x8",showgrid=False,zeroline=False,showline=True,mirror=True,linecolor="#808080",linewidth=2,showticklabels=False,ticks="",type="category",categoryorder="array",categoryarray=terms)
for v in (2,4,6):
    shapes.append(dict(type="line",xref="x8",x0=v,x1=v,yref="y8 domain",y0=0,y1=1,line=dict(color="#e2e2e2",width=2.5),layer="below"))
fig.add_trace(go.Bar(x=logp,y=terms,orientation="h",width=.85,marker=dict(color=logp,colorscale=ecs,cmin=3.97,cmax=7.65,line=dict(color="#9a9a9a",width=1.6),
    colorbar=dict(x=fx(545.5),xanchor="left",y=fy(772.7),yanchor="bottom",len=116/H,lenmode="fraction",thickness=23,thicknessmode="pixels",xpad=0,ypad=0,outlinewidth=0,
    tickvals=[4,5,6,7],ticks="inside",ticklen=3,tickcolor="rgba(255,255,255,.6)",tickfont=dict(size=10.5,color="#333"))),xaxis="x8",yaxis="y8",hoverinfo="skip"))
fig.add_trace(go.Scatter(x=[.05]*5,y=terms,mode="text",text=terms,textposition="middle right",textfont=dict(size=15.3,color="#111",family=FONT),xaxis="x8",yaxis="y8",cliponaxis=False,hoverinfo="skip"))

# ---------- Panel F ----------
P9x = lambda v:820+v/3
P9y = lambda v:545+v/3
groups = [
 (tf_blue_names,[610+v/3 for v in tf_blue_x],[545+v/3 for v in tf_blue_y],"#0a96d6",1),
 (tf_blue2_names,[670+v/3 for v in tf_blue2_x],[700+v/3 for v in tf_blue2_y],"#0a96d6",1),
 (tf_pink_names,[P9x(v) for v in tf_pink_x],[P9y(v) for v in tf_pink_y],"#f48aa8",0),
 (tf_yellow_names,[P9x(v) for v in tf_yellow_x],[P9y(v) for v in tf_yellow_y],"#fcd01a",2),
 (tf_purple_names,[670+v/3 for v in tf_purple_x],[700+v/3 for v in tf_purple_y],"#8a82c8",3),
 (tf_green_names,[670+v/3 for v in tf_green_x],[700+v/3 for v in tf_green_y],"#12c8a2",4),
]
hx = [P9x(v) for v in hub_x]
hy = [P9y(v) for v in hub_y]
ex,ey = [],[]
for nm,xs,ys,c,h in groups:
    for a,b in zip(xs,ys):
        ex += [a,hx[h],None]
        ey += [b,hy[h],None]
fig.add_trace(go.Scatter(x=ex,y=ey,mode="lines",line=dict(color="#dedede",width=.8),xaxis="x7",yaxis="y7",hoverinfo="skip"))
for nm,xs,ys,c,h in groups:
    fig.add_trace(go.Scatter(x=xs,y=ys,mode="markers+text",text=nm,textposition="middle center",marker=dict(color=c,size=9),
        textfont=dict(size=9.2,color="#222",family=FONT),xaxis="x7",yaxis="y7",cliponaxis=False,hoverinfo="skip"))
fig.add_trace(go.Scatter(x=hx,y=hy,mode="markers+text",text=hub_names,textposition="middle center",marker=dict(color="#dd78c2",size=25,line=dict(color="white",width=1)),
    textfont=dict(size=11,color="#222",family=FONT),xaxis="x7",yaxis="y7",cliponaxis=False,hoverinfo="skip"))
note(985.5,735.7,"TF Color&nbsp; Target",9.5,"#222")
leg_y = [752.7,770,787.3,804.7,821.7]
shapes.append(dict(type="rect",xref="x7",yref="y7",x0=963.3,x1=975,y0=746,y1=828.5,fillcolor="#f5f5f5",line=dict(width=0),layer="below"))
fig.add_trace(go.Scatter(x=[969]*5,y=leg_y,mode="markers",marker=dict(color=legend_tf_colors,size=8.5),xaxis="x7",yaxis="y7",hoverinfo="skip"))
for lab,yy in zip(legend_targets,leg_y):
    note(986,yy,lab,10.5,"#222","left")

# ---------- Panel letters ----------
for t_,lx,ly in (("A",2,11),("B",2,303),("C",316,303),("D",671,302),("E",2,601.7),("F",609,601)):
    note(lx,ly,t_,17,"#000","left",bold=True)

layout["annotations"] = notes
layout["shapes"] = shapes
fig.update_layout(**layout)
fig.write_html("out.html",config={"displayModeBar":False},post_script="document.body.style.margin='0';document.documentElement.style.overflow='hidden';")
